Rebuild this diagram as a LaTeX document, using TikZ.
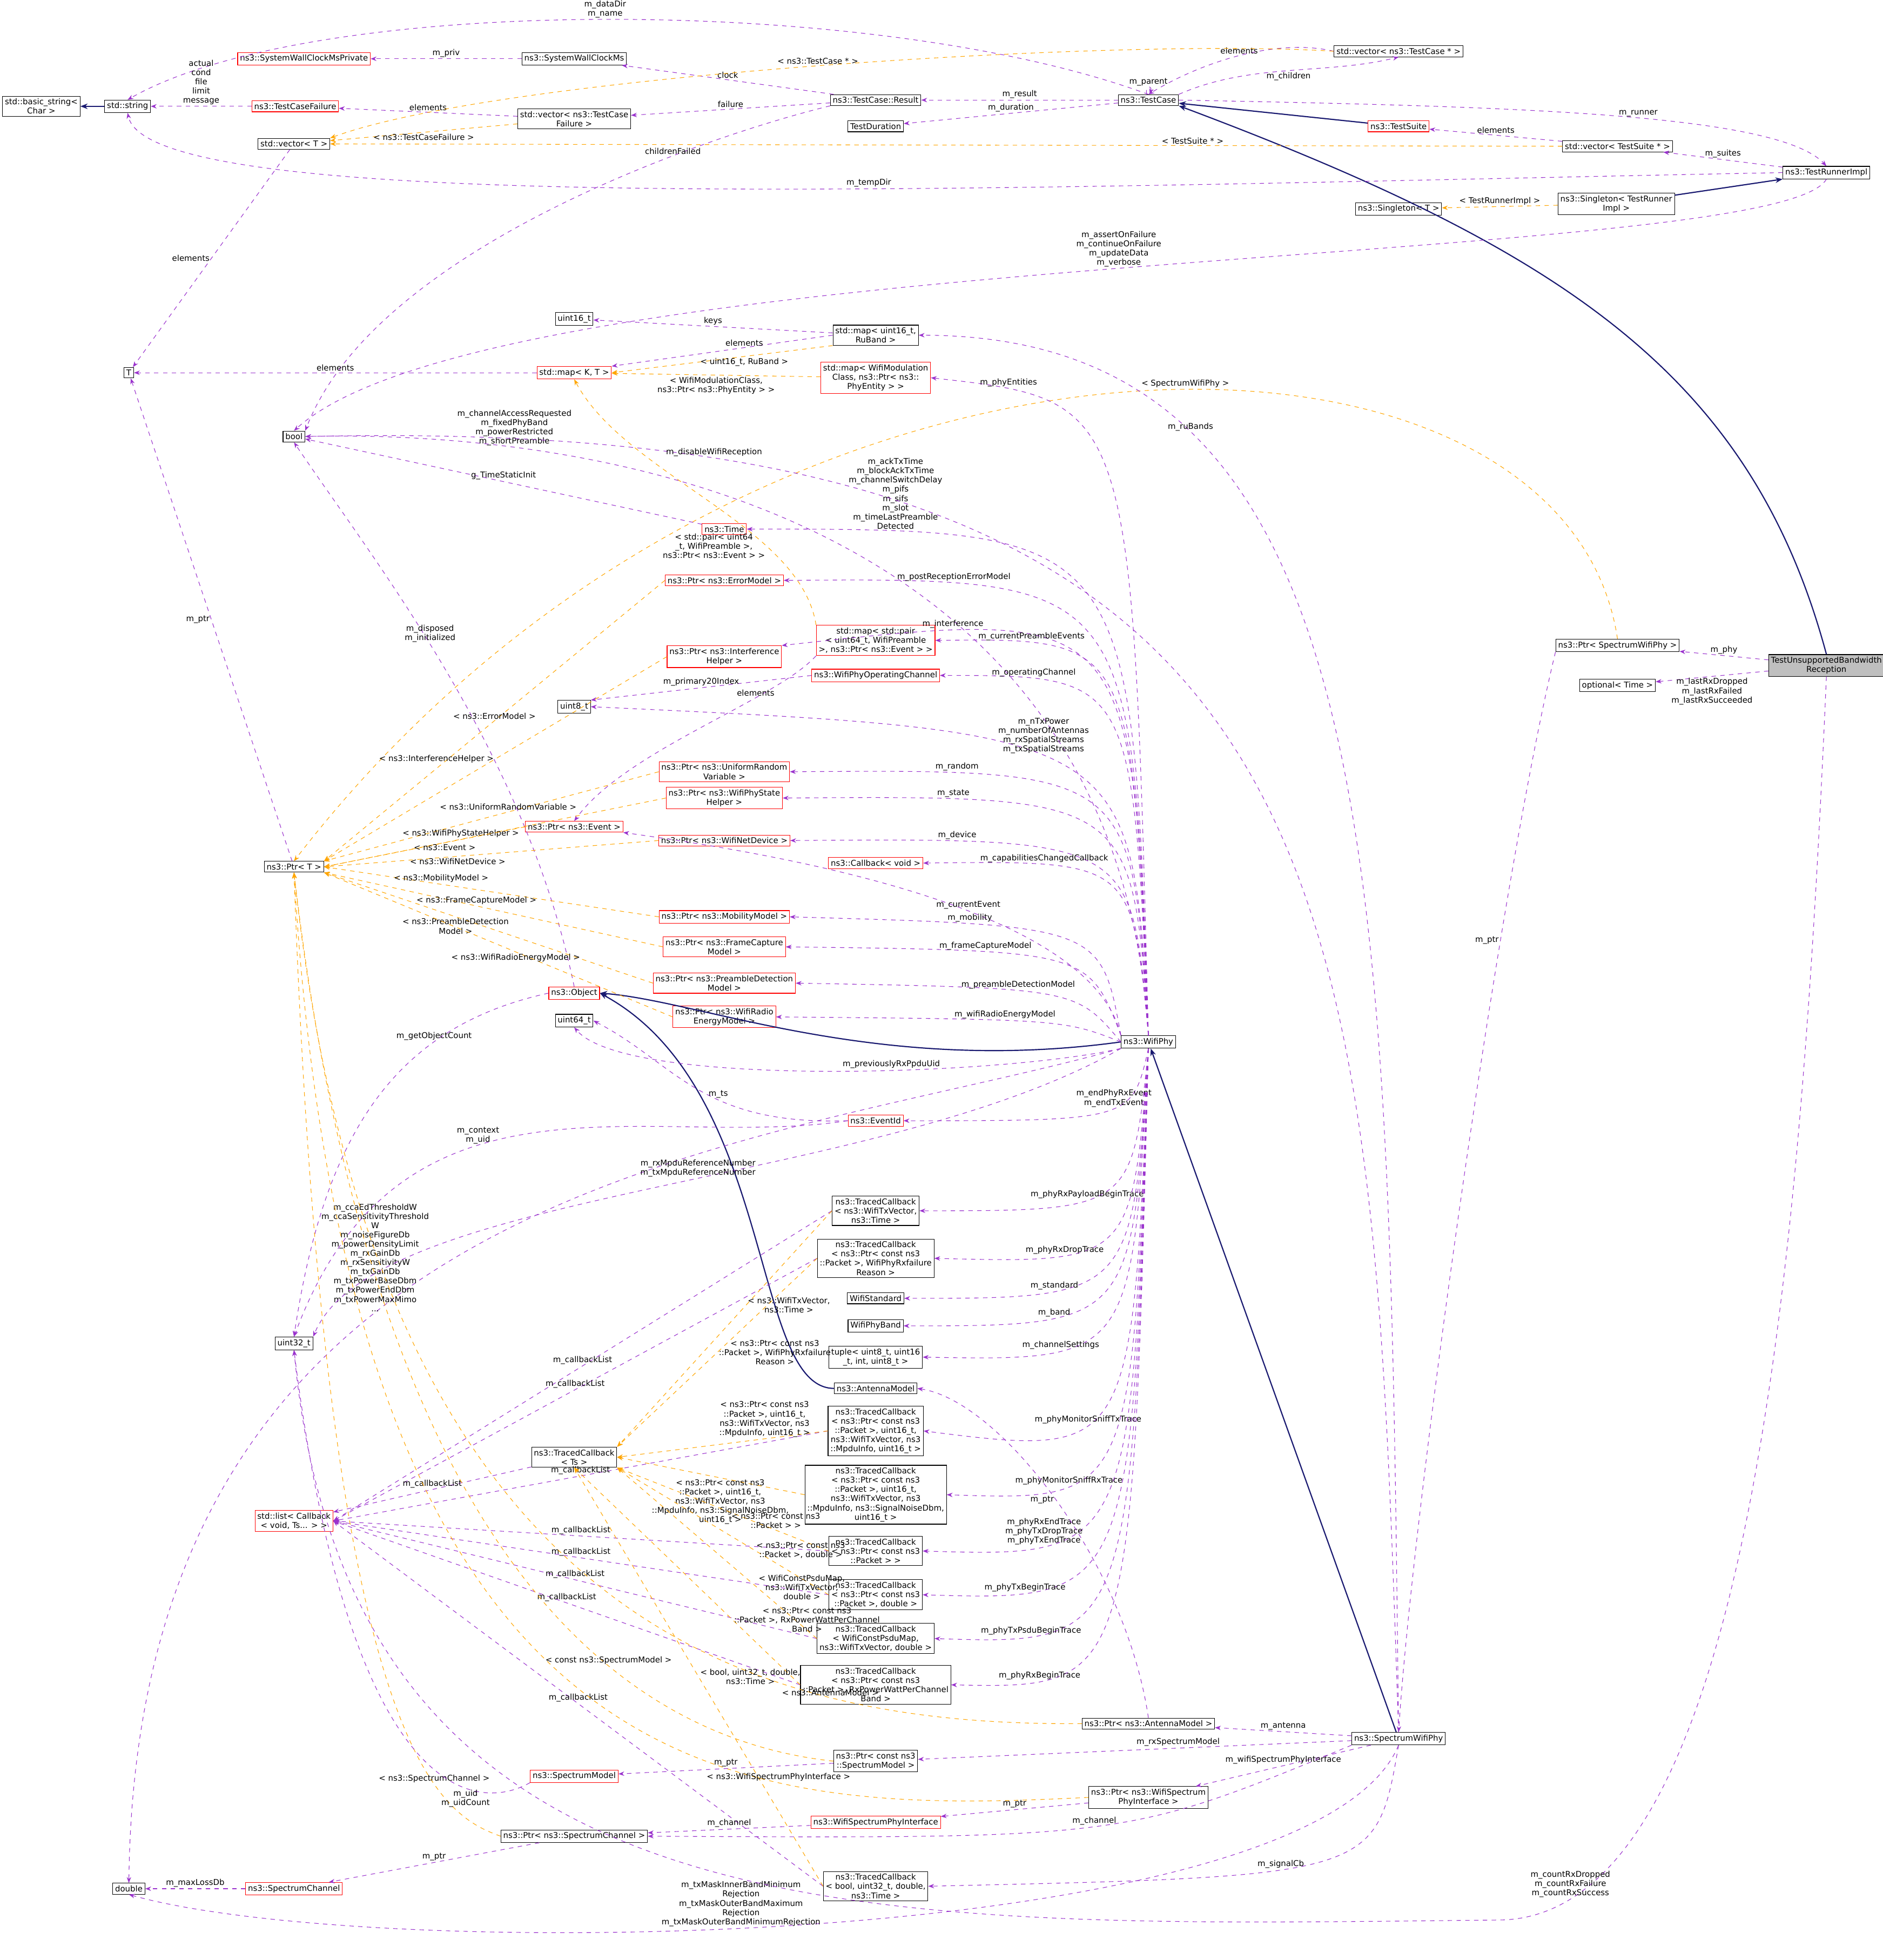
\documentclass[tikz,border=0pt]{standalone}
\usepackage{fontspec}
\setmainfont{DejaVu Sans}
\usetikzlibrary{arrows.meta}
\definecolor{memberCol}{HTML}{9A32CD}
\definecolor{tmplCol}{HTML}{FFA500}
\definecolor{inhCol}{HTML}{191970}
\begin{document}
\begin{tikzpicture}[x = 0.03cm, y = -0.03cm, font = \fontsize{5.5}{6.3}\selectfont]
	\tikzstyle{classBox} = [draw, inner sep = 1.6pt, align = center, fill = white]
	\tikzstyle{undocBox} = [classBox, draw = red]
	\tikzstyle{mainBox} = [classBox, fill = black!25]
	\tikzstyle{memberEdge} = [draw = memberCol, dashed, -{Stealth[length=4pt]}]
	\tikzstyle{templateEdge} = [draw = tmplCol, dashed, -{Stealth[length=4pt]}]
	\tikzstyle{inheritEdge} = [draw = inhCol, thick, -{Stealth[length=5pt]}]
	\tikzstyle{lbl} = [align = center, inner sep = 1pt, font = \fontsize{5.5}{6.3}\selectfont]
	\useasboundingbox (0,0) rectangle (1505,1567);
	% test framework
	\node[classBox] (bstr) at (33,85) {std::basic\_string\textless\\Char \textgreater};
	\node[classBox] (str) at (102,85) {std::string};
	\node[undocBox] (swcp) at (243,47) {ns3::SystemWallClockMsPrivate};
	\node[classBox] (swc) at (459,47) {ns3::SystemWallClockMs};
	\node[undocBox] (tcf) at (236,85) {ns3::TestCaseFailure};
	\node[classBox] (vtcf) at (459,95) {std::vector\textless{} ns3::TestCase\\Failure \textgreater};
	\node[classBox] (vt) at (235,115) {std::vector\textless{} T \textgreater};
	\node[classBox] (tcr) at (700,80) {ns3::TestCase::Result};
	\node[classBox] (tdur) at (700,101) {TestDuration};
	\node[classBox] (tc) at (918,80) {ns3::TestCase};
	\node[classBox] (vtc) at (1118,41) {std::vector\textless{} ns3::TestCase * \textgreater};
	\node[undocBox] (ts) at (1118,101) {ns3::TestSuite};
	\node[classBox] (vts) at (1293,117) {std::vector\textless{} TestSuite * \textgreater};
	\node[classBox] (tri) at (1460,138) {ns3::TestRunnerImpl};
	\node[classBox] (sgt) at (1118,167) {ns3::Singleton\textless{} T \textgreater};
	\node[classBox] (sgtr) at (1292,163) {ns3::Singleton\textless{} TestRunner\\Impl \textgreater};
	% basic types and containers
	\node[classBox] (T) at (103,298) {T};
	\node[classBox] (bool) at (235,349) {bool};
	\node[classBox] (u16) at (459,255) {uint16\_t};
	\node[classBox] (mapru) at (700,268) {std::map\textless{} uint16\_t,\\RuBand \textgreater};
	\node[undocBox] (mapkt) at (459,298) {std::map\textless{} K, T \textgreater};
	\node[undocBox] (mapwm) at (700,302) {std::map\textless{} WifiModulation\\Class, ns3::Ptr\textless{} ns3::\\PhyEntity \textgreater{} \textgreater};
	\node[undocBox] (time) at (579,423) {ns3::Time};
	\node[undocBox] (perr) at (579,464) {ns3::Ptr\textless{} ns3::ErrorModel \textgreater};
	\node[undocBox] (pint) at (579,525) {ns3::Ptr\textless{} ns3::Interference\\Helper \textgreater};
	\node[undocBox] (mappair) at (700,512) {std::map\textless{} std::pair\\\textless{} uint64\_t, WifiPreamble\\\textgreater, ns3::Ptr\textless{} ns3::Event \textgreater{} \textgreater};
	\node[undocBox] (opch) at (700,540) {ns3::WifiPhyOperatingChannel};
	\node[classBox] (u8) at (459,565) {uint8\_t};
	\node[undocBox] (prnd) at (579,617) {ns3::Ptr\textless{} ns3::UniformRandom\\Variable \textgreater};
	\node[undocBox] (pstate) at (579,638) {ns3::Ptr\textless{} ns3::WifiPhyState\\Helper \textgreater};
	\node[undocBox] (pevt) at (459,661) {ns3::Ptr\textless{} ns3::Event \textgreater};
	\node[undocBox] (pdev) at (579,672) {ns3::Ptr\textless{} ns3::WifiNetDevice \textgreater};
	\node[undocBox] (cbv) at (700,690) {ns3::Callback\textless{} void \textgreater};
	\node[classBox] (ptrT) at (235,693) {ns3::Ptr\textless{} T \textgreater};
	\node[undocBox] (pmob) at (579,733) {ns3::Ptr\textless{} ns3::MobilityModel \textgreater};
	\node[undocBox] (pfc) at (579,757) {ns3::Ptr\textless{} ns3::FrameCapture\\Model \textgreater};
	\node[undocBox] (ppd) at (579,786) {ns3::Ptr\textless{} ns3::PreambleDetection\\Model \textgreater};
	\node[undocBox] (obj) at (459,794) {ns3::Object};
	\node[undocBox] (pen) at (579,813) {ns3::Ptr\textless{} ns3::WifiRadio\\EnergyModel \textgreater};
	\node[classBox] (u64) at (459,816) {uint64\_t};
	\node[classBox] (phy) at (918,833) {ns3::WifiPhy};
	\node[undocBox] (evid) at (700,896) {ns3::EventId};
	% traced callbacks
	\node[classBox] (tcTxv) at (700,968) {ns3::TracedCallback\\\textless{} ns3::WifiTxVector,\\ns3::Time \textgreater};
	\node[classBox] (tcDrop) at (700,1006) {ns3::TracedCallback\\\textless{} ns3::Ptr\textless{} const ns3\\::Packet \textgreater, WifiPhyRxfailure\\Reason \textgreater};
	\node[classBox] (wstd) at (700,1038) {WifiStandard};
	\node[classBox] (wband) at (700,1060) {WifiPhyBand};
	\node[classBox] (tuple) at (700,1085) {tuple\textless{} uint8\_t, uint16\\\_t, int, uint8\_t \textgreater};
	\node[classBox] (ant) at (700,1110) {ns3::AntennaModel};
	\node[classBox] (u32) at (235,1074) {uint32\_t};
	\node[classBox] (tcSniffTx) at (700,1144) {ns3::TracedCallback\\\textless{} ns3::Ptr\textless{} const ns3\\::Packet \textgreater, uint16\_t,\\ns3::WifiTxVector, ns3\\::MpduInfo, uint16\_t \textgreater};
	\node[classBox] (tcTs) at (459,1165) {ns3::TracedCallback\\\textless{} Ts \textgreater};
	\node[classBox] (tcSniffRx) at (700,1195) {ns3::TracedCallback\\\textless{} ns3::Ptr\textless{} const ns3\\::Packet \textgreater, uint16\_t,\\ns3::WifiTxVector, ns3\\::MpduInfo, ns3::SignalNoiseDbm,\\uint16\_t \textgreater};
	\node[undocBox] (list) at (235,1216) {std::list\textless{} Callback\\\textless{} void, Ts... \textgreater{} \textgreater};
	\node[classBox] (tcPkt) at (700,1240) {ns3::TracedCallback\\\textless{} ns3::Ptr\textless{} const ns3\\::Packet \textgreater{} \textgreater};
	\node[classBox] (tcPktD) at (700,1275) {ns3::TracedCallback\\\textless{} ns3::Ptr\textless{} const ns3\\::Packet \textgreater, double \textgreater};
	\node[classBox] (tcPsdu) at (700,1310) {ns3::TracedCallback\\\textless{} WifiConstPsduMap,\\ns3::WifiTxVector, double \textgreater};
	\node[classBox] (tcRxP) at (700,1347) {ns3::TracedCallback\\\textless{} ns3::Ptr\textless{} const ns3\\::Packet \textgreater, RxPowerWattPerChannel\\Band \textgreater};
	% spectrum
	\node[classBox] (pant) at (918,1378) {ns3::Ptr\textless{} ns3::AntennaModel \textgreater};
	\node[classBox] (sphy) at (1118,1390) {ns3::SpectrumWifiPhy};
	\node[undocBox] (smod) at (459,1420) {ns3::SpectrumModel};
	\node[classBox] (psmod) at (700,1408) {ns3::Ptr\textless{} const ns3\\::SpectrumModel \textgreater};
	\node[classBox] (pwspi) at (918,1437) {ns3::Ptr\textless{} ns3::WifiSpectrum\\PhyInterface \textgreater};
	\node[undocBox] (wspi) at (700,1457) {ns3::WifiSpectrumPhyInterface};
	\node[classBox] (pch) at (459,1468) {ns3::Ptr\textless{} ns3::SpectrumChannel \textgreater};
	\node[classBox] (tcSig) at (700,1508) {ns3::TracedCallback\\\textless{} bool, uint32\_t, double,\\ns3::Time \textgreater};
	\node[undocBox] (sch) at (235,1510) {ns3::SpectrumChannel};
	\node[classBox] (dbl) at (103,1510) {double};
	\node[classBox] (pswp) at (1293,516) {ns3::Ptr\textless{} SpectrumWifiPhy \textgreater};
	\node[classBox] (optt) at (1293,548) {optional\textless{} Time \textgreater};
	\node[mainBox] (test) at (1460,532) {TestUnsupportedBandwidth\\Reception};
	% inheritance
	\draw[inheritEdge] (str) -- (bstr);
	\draw[inheritEdge] (ts) -- (tc);
	\draw[inheritEdge] (sgtr) -- (tri);
	\draw[inheritEdge] (test.north) .. controls (1400,300) and (1250,200) .. (tc.south east);
	\draw[inheritEdge] (phy.west) .. controls (700,860) and (560,800) .. (obj.east);
	\draw[inheritEdge] (ant.west) .. controls (600,1110) and (620,870) .. (obj.east);
	\draw[inheritEdge] (sphy) -- (phy);
	% test framework members
	\draw[memberEdge] (tc.north) .. controls (700,-5) and (250,-5) .. node[lbl, above, pos = 0.5] {m\_dataDir\\m\_name} (str.north);
	\draw[memberEdge] (swc) -- node[lbl, above] {m\_priv} (swcp);
	\draw[memberEdge] (tcf) -- node[lbl, above] {actual\\cond\\file\\limit\\message} (str);
	\draw[memberEdge] (tcr) -- node[lbl, above] {clock} (swc);
	\draw[memberEdge] (tcr) -- node[lbl, above] {failure} (vtcf);
	\draw[memberEdge] (tcr.south west) .. controls (560,110) and (300,200) .. node[lbl, above, pos = 0.3] {childrenFailed} (bool.north east);
	\draw[memberEdge] (tc) -- node[lbl, above] {m\_result} (tcr);
	\draw[memberEdge] (tc) -- node[lbl, above] {m\_duration} (tdur);
	\path (tc) edge[memberEdge, loop above, looseness = 8] node[lbl, above] {m\_parent} (tc);
	\draw[memberEdge] (tc.north east) .. controls (1000,50) and (1060,60) .. node[lbl, below] {m\_children} (vtc.south);
	\draw[memberEdge] (vtc.west) .. controls (1020,30) and (960,50) .. node[lbl, above] {elements} (tc.north);
	\draw[memberEdge] (tc.east) .. controls (1200,85) and (1420,90) .. node[lbl, above, pos = 0.55] {m\_runner} (tri.north);
	\draw[memberEdge] (vts) -- node[lbl, above] {elements} (ts);
	\draw[memberEdge] (tri) -- node[lbl, above] {m\_suites} (vts);
	\draw[memberEdge] (tri.west) .. controls (800,150) and (120,175) .. node[lbl, above, pos = 0.4] {m\_tempDir} (str.south);
	\draw[memberEdge] (tri.south) .. controls (1420,215) and (400,195) .. node[lbl, above, pos = 0.5] {m\_assertOnFailure\\m\_continueOnFailure\\m\_updateData\\m\_verbose} (bool.north);
	\draw[memberEdge] (vtcf) -- node[lbl, above] {elements} (tcf);
	\draw[memberEdge] (vt) -- node[lbl, left] {elements} (T);
	% templates
	\draw[templateEdge] (vtc.west) .. controls (900,30) and (400,60) .. node[lbl, above, pos = 0.5] {\textless{} ns3::TestCase * \textgreater} (vt.north east);
	\draw[templateEdge] (vtcf) -- node[lbl, below] {\textless{} ns3::TestCaseFailure \textgreater} (vt);
	\draw[templateEdge] (vts) -- node[lbl, above, pos = 0.3] {\textless{} TestSuite * \textgreater} (vt);
	\draw[templateEdge] (sgtr) -- node[lbl, above] {\textless{} TestRunnerImpl \textgreater} (sgt);
	\draw[templateEdge] (mapru.south west) -- node[lbl, below, pos = 0.4] {\textless{} uint16\_t, RuBand \textgreater} (mapkt.east);
	\draw[templateEdge] (mapwm) -- node[lbl, below] {\textless{} WifiModulationClass,\\ns3::Ptr\textless{} ns3::PhyEntity \textgreater{} \textgreater} (mapkt);
	\draw[templateEdge] (mappair.north west) .. controls (640,420) and (500,380) .. node[lbl, pos = 0.3, left] {\textless{} std::pair\textless{} uint64\\\_t, WifiPreamble \textgreater,\\ns3::Ptr\textless{} ns3::Event \textgreater{} \textgreater} (mapkt.south);
	\draw[templateEdge] (pswp.north) .. controls (1250,225) and (600,215) .. node[lbl, above, pos = 0.45] {\textless{} SpectrumWifiPhy \textgreater} (ptrT.north);
	% containers and pointers
	\draw[memberEdge] (mapru) -- node[lbl, above] {keys} (u16);
	\draw[memberEdge] (mapru.west) -- node[lbl, above, pos = 0.4] {elements} (mapkt.north east);
	\draw[memberEdge] (mapkt) -- node[lbl, above] {elements} (T);
	\draw[memberEdge] (ptrT) -- node[lbl, left] {m\_ptr} (T);
	\draw[memberEdge] (obj.north) .. controls (420,600) and (300,450) .. node[lbl, above, pos = 0.55] {m\_disposed\\m\_initialized} (bool.south);
	\draw[memberEdge] (time) -- node[lbl, above] {g\_TimeStaticInit} (bool);
	\draw[memberEdge] (obj.west) .. controls (320,820) and (260,900) .. node[lbl, above, pos = 0.3] {m\_getObjectCount} (u32.north);
	% WifiPhy members above it
	\draw[memberEdge] (phy.north) .. controls (890,370) and (400,345) .. node[lbl, above, pos = 0.75] {m\_channelAccessRequested\\m\_fixedPhyBand\\m\_powerRestricted\\m\_shortPreamble} (bool.east);
	\draw[memberEdge] (phy.north) .. controls (905,320) .. node[lbl, above, pos = 0.85] {m\_phyEntities} (mapwm.east);
	\draw[memberEdge] (phy.north) .. controls (905,423) .. node[lbl, above, pos = 0.85] {m\_ackTxTime\\m\_blockAckTxTime\\m\_channelSwitchDelay\\m\_pifs\\m\_sifs\\m\_slot\\m\_timeLastPreamble\\Detected} (time.east);
	\draw[memberEdge] (phy.north) .. controls (905,462) .. node[lbl, above, pos = 0.8] {m\_postReceptionErrorModel} (perr.east);
	\draw[memberEdge] (phy.north) .. controls (905,485) .. node[lbl, above, pos = 0.8] {m\_interference} (pint.north east);
	\draw[memberEdge] (phy.north) .. controls (905,510) .. node[lbl, above, pos = 0.8] {m\_currentPreambleEvents} (mappair.east);
	\draw[memberEdge] (phy.north) .. controls (905,540) .. node[lbl, above, pos = 0.8] {m\_operatingChannel} (opch.east);
	\draw[memberEdge] (opch.west) -- node[lbl, above] {m\_primary20Index} (u8.north east);
	\draw[memberEdge] (phy.north) .. controls (905,585) .. node[lbl, above, pos = 0.55] {m\_nTxPower\\m\_numberOfAntennas\\m\_rxSpatialStreams\\m\_txSpatialStreams} (u8.east);
	\draw[memberEdge] (mappair.south west) .. controls (620,560) and (500,600) .. node[lbl, above, pos = 0.3] {elements} (pevt.north);
	\draw[memberEdge] (phy.north) .. controls (905,615) .. node[lbl, above, pos = 0.8] {m\_random} (prnd.east);
	\draw[memberEdge] (phy.north) .. controls (905,636) .. node[lbl, above, pos = 0.8] {m\_state} (pstate.east);
	\draw[memberEdge] (phy.north) .. controls (905,670) .. node[lbl, above, pos = 0.8] {m\_device} (pdev.east);
	\draw[memberEdge] (phy.north) .. controls (905,688) .. node[lbl, above, pos = 0.75] {m\_capabilitiesChangedCallback} (cbv.east);
	\draw[memberEdge] (phy.north west) .. controls (870,720) and (600,680) .. node[lbl, above, pos = 0.4] {m\_currentEvent} (pevt.south east);
	\draw[memberEdge] (phy.north west) .. controls (880,740) .. node[lbl, above, pos = 0.75] {m\_mobility} (pmob.east);
	\draw[memberEdge] (phy.north west) .. controls (870,760) .. node[lbl, above, pos = 0.7] {m\_frameCaptureModel} (pfc.east);
	\draw[memberEdge] (phy.west) .. controls (860,790) .. node[lbl, above, pos = 0.6] {m\_preambleDetectionModel} (ppd.east);
	\draw[memberEdge] (phy.west) .. controls (850,815) .. node[lbl, above, pos = 0.6] {m\_wifiRadioEnergyModel} (pen.east);
	\draw[memberEdge] (phy.south west) .. controls (800,860) and (500,870) .. node[lbl, above, pos = 0.4] {m\_previouslyRxPpduUid} (u64.south);
	% WifiPhy members below it
	\draw[memberEdge] (evid.west) .. controls (560,900) and (540,850) .. node[lbl, above, pos = 0.4] {m\_ts} (u64.east);
	\draw[memberEdge] (evid.west) .. controls (520,920) and (320,840) .. node[lbl, above, pos = 0.6] {m\_context\\m\_uid} (u32.north);
	\draw[memberEdge] (phy.south) .. controls (905,896) .. node[lbl, above, pos = 0.45] {m\_endPhyRxEvent\\m\_endTxEvent} (evid.east);
	\draw[memberEdge] (phy.south west) .. controls (600,920) and (110,940) .. node[lbl, above, pos = 0.6] {m\_ccaEdThresholdW\\m\_ccaSensitivityThreshold\\W\\m\_noiseFigureDb\\m\_powerDensityLimit\\m\_rxGainDb\\m\_rxSensitivityW\\m\_txGainDb\\m\_txPowerBaseDbm\\m\_txPowerEndDbm\\m\_txPowerMaxMimo\\...} (dbl.north);
	\draw[memberEdge] (phy.south west) .. controls (700,950) and (300,950) .. node[lbl, above, pos = 0.45] {m\_rxMpduReferenceNumber\\m\_txMpduReferenceNumber} (u32.north east);
	\draw[memberEdge] (phy.south) .. controls (905,968) .. node[lbl, above, pos = 0.6] {m\_phyRxPayloadBeginTrace} (tcTxv.east);
	\draw[memberEdge] (phy.south) .. controls (905,1010) .. node[lbl, above, pos = 0.7] {m\_phyRxDropTrace} (tcDrop.east);
	\draw[memberEdge] (phy.south) .. controls (905,1038) .. node[lbl, above, pos = 0.7] {m\_standard} (wstd.east);
	\draw[memberEdge] (phy.south) .. controls (905,1060) .. node[lbl, above, pos = 0.7] {m\_band} (wband.east);
	\draw[memberEdge] (phy.south) .. controls (905,1088) .. node[lbl, above, pos = 0.7] {m\_channelSettings} (tuple.east);
	\draw[memberEdge] (phy.south) .. controls (905,1165) .. node[lbl, above, pos = 0.6] {m\_phyMonitorSniffTxTrace} (tcSniffTx.east);
	\draw[memberEdge] (phy.south) .. controls (905,1200) .. node[lbl, above, pos = 0.7] {m\_phyMonitorSniffRxTrace} (tcSniffRx.east);
	\draw[memberEdge] (phy.south) .. controls (905,1245) .. node[lbl, above, pos = 0.75] {m\_phyRxEndTrace\\m\_phyTxDropTrace\\m\_phyTxEndTrace} (tcPkt.east);
	\draw[memberEdge] (phy.south) .. controls (905,1280) .. node[lbl, above, pos = 0.8] {m\_phyTxBeginTrace} (tcPktD.east);
	\draw[memberEdge] (phy.south) .. controls (905,1315) .. node[lbl, above, pos = 0.8] {m\_phyTxPsduBeginTrace} (tcPsdu.east);
	\draw[memberEdge] (phy.south) .. controls (905,1350) .. node[lbl, above, pos = 0.8] {m\_phyRxBeginTrace} (tcRxP.east);
	% callback lists
	\foreach \cb in {tcTxv, tcDrop, tcSniffTx, tcPkt, tcPktD, tcPsdu, tcRxP, tcSig}
		\draw[memberEdge] (\cb.west) -- node[lbl, above, pos = 0.5] {m\_callbackList} (list.east);
	\draw[memberEdge] (tcTs) -- node[lbl, above] {m\_callbackList} (list);
	% TracedCallback templates
	\draw[templateEdge] (tcTxv.west) -- node[lbl, right, pos = 0.4] {\textless{} ns3::WifiTxVector,\\ns3::Time \textgreater} (tcTs.north east);
	\draw[templateEdge] (tcDrop.west) -- node[lbl, right, pos = 0.5] {\textless{} ns3::Ptr\textless{} const ns3\\::Packet \textgreater, WifiPhyRxfailure\\Reason \textgreater} (tcTs.north east);
	\draw[templateEdge] (tcSniffTx.west) -- node[lbl, above, pos = 0.3] {\textless{} ns3::Ptr\textless{} const ns3\\::Packet \textgreater, uint16\_t,\\ns3::WifiTxVector, ns3\\::MpduInfo, uint16\_t \textgreater} (tcTs.east);
	\draw[templateEdge] (tcSniffRx.west) -- node[lbl, below, pos = 0.45] {\textless{} ns3::Ptr\textless{} const ns3\\::Packet \textgreater, uint16\_t,\\ns3::WifiTxVector, ns3\\::MpduInfo, ns3::SignalNoiseDbm,\\uint16\_t \textgreater} (tcTs.east);
	\draw[templateEdge] (tcPkt.west) -- node[lbl, above, pos = 0.25] {\textless{} ns3::Ptr\textless{} const ns3\\::Packet \textgreater{} \textgreater} (tcTs.south east);
	\draw[templateEdge] (tcPktD.west) -- node[lbl, right, pos = 0.35] {\textless{} ns3::Ptr\textless{} const ns3\\::Packet \textgreater, double \textgreater} (tcTs.south east);
	\draw[templateEdge] (tcPsdu.west) -- node[lbl, right, pos = 0.3] {\textless{} WifiConstPsduMap,\\ns3::WifiTxVector,\\double \textgreater} (tcTs.south east);
	\draw[templateEdge] (tcRxP.west) -- node[lbl, right, pos = 0.3] {\textless{} ns3::Ptr\textless{} const ns3\\::Packet \textgreater, RxPowerWattPerChannel\\Band \textgreater} (tcTs.south);
	\draw[templateEdge] (tcSig.west) -- node[lbl, right, pos = 0.5] {\textless{} bool, uint32\_t, double,\\ns3::Time \textgreater} (tcTs.south);
	% Ptr templates
	\draw[templateEdge] (perr.west) -- node[lbl, above, pos = 0.5] {\textless{} ns3::ErrorModel \textgreater} (ptrT.north east);
	\draw[templateEdge] (pint.west) -- node[lbl, left, pos = 0.5] {\textless{} ns3::InterferenceHelper \textgreater} (ptrT.north east);
	\draw[templateEdge] (prnd.west) -- node[lbl, above, pos = 0.45] {\textless{} ns3::UniformRandomVariable \textgreater} (ptrT.north east);
	\draw[templateEdge] (pstate.west) -- node[lbl, above, pos = 0.6] {\textless{} ns3::WifiPhyStateHelper \textgreater} (ptrT.east);
	\draw[templateEdge] (pevt.west) -- node[lbl, below, pos = 0.4] {\textless{} ns3::Event \textgreater} (ptrT.east);
	\draw[templateEdge] (pdev.west) -- node[lbl, below, pos = 0.6] {\textless{} ns3::WifiNetDevice \textgreater} (ptrT.east);
	\draw[templateEdge] (pmob.west) -- node[lbl, above, pos = 0.65] {\textless{} ns3::MobilityModel \textgreater} (ptrT.east);
	\draw[templateEdge] (pfc.west) -- node[lbl, above, pos = 0.55] {\textless{} ns3::FrameCaptureModel \textgreater} (ptrT.south east);
	\draw[templateEdge] (ppd.west) -- node[lbl, below, pos = 0.6] {\textless{} ns3::PreambleDetection\\Model \textgreater} (ptrT.south east);
	\draw[templateEdge] (pen.west) -- node[lbl, below, pos = 0.45] {\textless{} ns3::WifiRadioEnergyModel \textgreater} (ptrT.south east);
	\draw[templateEdge] (pant.west) .. controls (600,1380) and (300,1300) .. node[lbl, above, pos = 0.25] {\textless{} ns3::AntennaModel \textgreater} (ptrT.south);
	\draw[templateEdge] (psmod.west) .. controls (500,1390) and (300,1250) .. node[lbl, above, pos = 0.35] {\textless{} const ns3::SpectrumModel \textgreater} (ptrT.south);
	\draw[templateEdge] (pwspi.west) .. controls (600,1450) and (280,1450) .. node[lbl, above, pos = 0.3] {\textless{} ns3::WifiSpectrumPhyInterface \textgreater} (ptrT.south);
	\draw[templateEdge] (pch.west) .. controls (350,1450) and (260,1400) .. node[lbl, above, pos = 0.3] {\textless{} ns3::SpectrumChannel \textgreater} (ptrT.south);
	% spectrum members
	\draw[memberEdge] (pant.north) .. controls (900,1250) and (800,1120) .. node[lbl, left, pos = 0.5] {m\_ptr} (ant.east);
	\draw[memberEdge] (sphy) -- node[lbl, above] {m\_antenna} (pant);
	\draw[memberEdge] (sphy) -- node[lbl, above, pos = 0.4] {m\_rxSpectrumModel} (psmod);
	\draw[memberEdge] (psmod) -- node[lbl, above] {m\_ptr} (smod);
	\draw[memberEdge] (sphy) -- node[lbl, above] {m\_wifiSpectrumPhyInterface} (pwspi);
	\draw[memberEdge] (pwspi) -- node[lbl, above] {m\_ptr} (wspi);
	\draw[memberEdge] (wspi) -- node[lbl, above] {m\_channel} (pch);
	\draw[memberEdge] (sphy.south west) .. controls (900,1470) .. node[lbl, above, pos = 0.5] {m\_channel} (pch.east);
	\draw[memberEdge] (smod.south west) .. controls (380,1450) and (280,1440) .. node[lbl, below, pos = 0.3] {m\_uid\\m\_uidCount} (u32.south);
	\draw[memberEdge] (pch) -- node[lbl, above] {m\_ptr} (sch);
	\draw[memberEdge] (sch) -- node[lbl, above] {m\_maxLossDb} (dbl);
	\draw[memberEdge] (sphy.south) .. controls (1100,1500) .. node[lbl, above, pos = 0.6] {m\_signalCb} (tcSig.east);
	\draw[memberEdge] (sphy.south) .. controls (1050,1560) and (300,1570) .. node[lbl, above, pos = 0.55] {m\_txMaskInnerBandMinimum\\Rejection\\m\_txMaskOuterBandMaximum\\Rejection\\m\_txMaskOuterBandMinimumRejection} (dbl.south);
	\draw[memberEdge] (sphy.north) .. controls (1110,700) and (1110,268) .. node[lbl, above, pos = 0.75] {m\_ruBands} (mapru.east);
	\draw[memberEdge] (sphy.north) .. controls (1095,700) and (1090,330) .. node[lbl, above, pos = 0.85] {m\_disableWifiReception} (bool.east);
	\draw[memberEdge] (pswp.south west) .. controls (1200,700) and (1130,1200) .. node[lbl, left, pos = 0.3] {m\_ptr} (sphy.north);
	\draw[memberEdge] (test) -- node[lbl, above] {m\_phy} (pswp);
	\draw[memberEdge] (test) -- node[lbl, below] {m\_lastRxDropped\\m\_lastRxFailed\\m\_lastRxSucceeded} (optt);
	\draw[memberEdge] (test.south) .. controls (1440,1000) and (1400,1530) .. node[lbl, above, pos = 0.9] {m\_countRxDropped\\m\_countRxFailure\\m\_countRxSuccess} (1200,1535) .. controls (700,1540) and (280,1560) .. (u32.south);
\end{tikzpicture}
\end{document}
